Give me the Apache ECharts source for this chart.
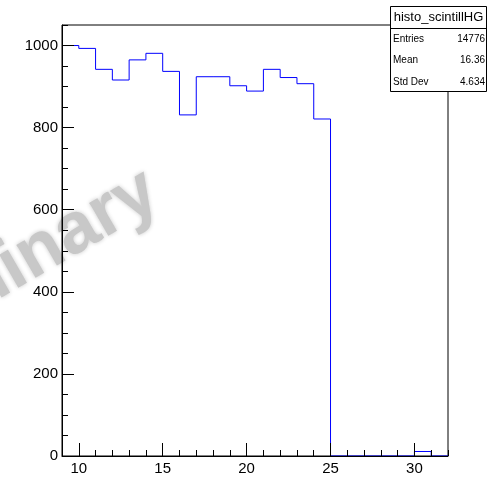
<!DOCTYPE html>
<html>
<head>
<meta charset="utf-8">
<script src="https://cdn.jsdelivr.net/npm/echarts@6/dist/echarts.min.js"></script>
<style>
  html, body { margin: 0; padding: 0; background: #fff; }
  #histDiv { width: 495px; height: 477px; }
</style>
</head>
<body>
<div id="histDiv"></div>
<script>
// histogram bins: width 1, first bin starts at 9
const binStart = 9;
const binWidth = 1;
const counts = [1000, 993, 942, 916, 965, 981, 937, 831, 924, 924, 902, 889,
                942, 922, 907, 821, 0, 0, 0, 0, 0, 11, 0];
const xTicks = [10, 15, 20, 25, 30];
const statNames = ["Entries", "Mean", "Std Dev"];
const statValues = ["14776", "16.36", "4.634"];
const histName = "histo_scintillHG";

let hist = echarts.init(document.getElementById("histDiv"));

// step points: left edge of each bin, plus the closing right edge
let stepData = [];
for (let i = 0; i < counts.length; i++) {
    stepData.push([binStart + i * binWidth, counts[i]]);
}
stepData.push([binStart + counts.length * binWidth, counts[counts.length - 1]]);
const xMax = binStart + counts.length * binWidth;

const font = "Liberation Sans, Arial, Helvetica, sans-serif";
const black = "#000";

// stats box texts
let statsGraphics = [
    {
        type: "rect",
        shape: { x: 390.5, y: 6.5, width: 96, height: 85 },
        style: { fill: "#fff", stroke: black, lineWidth: 1 },
        z: 100
    },
    {
        type: "line",
        shape: { x1: 390.5, y1: 28.5, x2: 486.5, y2: 28.5 },
        style: { stroke: black, lineWidth: 1 },
        z: 101
    },
    {
        type: "text",
        x: 438.5, y: 17.5,
        style: { text: histName, font: "13px " + font, fill: black, align: "center", verticalAlign: "middle" },
        z: 101
    }
];
const rowY = [39, 60.5, 82];
statNames.forEach(function (name, i) {
    statsGraphics.push({
        type: "text", x: 393, y: rowY[i],
        style: { text: name, font: "10px " + font, fill: black, align: "left", verticalAlign: "middle" },
        z: 101
    });
    statsGraphics.push({
        type: "text", x: 485, y: rowY[i],
        style: { text: statValues[i], font: "10px " + font, fill: black, align: "right", verticalAlign: "middle" },
        z: 101
    });
});

hist.setOption({
    animation: false,
    grid: {
        left: 62, top: 25, right: 47, bottom: 21,
        show: true, borderColor: black, borderWidth: 1,
        containLabel: false
    },
    xAxis: [
        {
            type: "value", min: binStart, max: xMax,
            z: 10,
            axisLine: { show: true, onZero: false, lineStyle: { color: black, width: 1 } },
            axisTick: { show: true, inside: true, length: 13, customValues: xTicks, lineStyle: { color: black } },
            axisLabel: { show: true, customValues: xTicks, margin: 5, color: black, fontSize: 15, fontFamily: font },
            splitLine: { show: false }
        },
        {
            // minor ticks on every integer
            type: "value", min: binStart, max: xMax, interval: 1,
            position: "bottom", z: 10,
            axisLine: { show: false },
            axisTick: { show: true, inside: true, length: 6, lineStyle: { color: black } },
            axisLabel: { show: false },
            splitLine: { show: false }
        }
    ],
    yAxis: [
        {
            type: "value", min: 0, max: 1050, interval: 200,
            z: 10,
            axisLine: { show: true, onZero: false, lineStyle: { color: black, width: 1 } },
            axisTick: { show: true, inside: true, length: 12, lineStyle: { color: black } },
            axisLabel: {
                show: true, showMaxLabel: false, margin: 4, color: black, fontSize: 15, fontFamily: font,
                formatter: function (v) { return String(v); }
            },
            splitLine: { show: false }
        },
        {
            // minor ticks every 50
            type: "value", min: 0, max: 1050, interval: 50,
            position: "left", z: 10,
            axisLine: { show: false },
            axisTick: { show: true, inside: true, length: 6, lineStyle: { color: black } },
            axisLabel: { show: false },
            splitLine: { show: false }
        }
    ],
    graphic: [
        {
            // watermark, mostly cut off by the left edge
            type: "text",
            x: 153, y: 187,
            rotation: 30 * Math.PI / 180,
            z: -1,
            style: {
                text: "Preliminary",
                font: "bold 72px " + font,
                fill: "#c8c8c8",
                align: "right",
                verticalAlign: "middle",
                textShadowColor: "#c8c8c8",
                textShadowBlur: 4
            }
        }
    ].concat(statsGraphics),
    series: [
        {
            name: histName,
            type: "line",
            step: "end",
            xAxisIndex: 0,
            yAxisIndex: 0,
            data: stepData,
            showSymbol: false,
            symbol: "none",
            lineStyle: { color: "#0000ff", width: 1 },
            z: 2
        }
    ]
});
</script>
</body>
</html>
